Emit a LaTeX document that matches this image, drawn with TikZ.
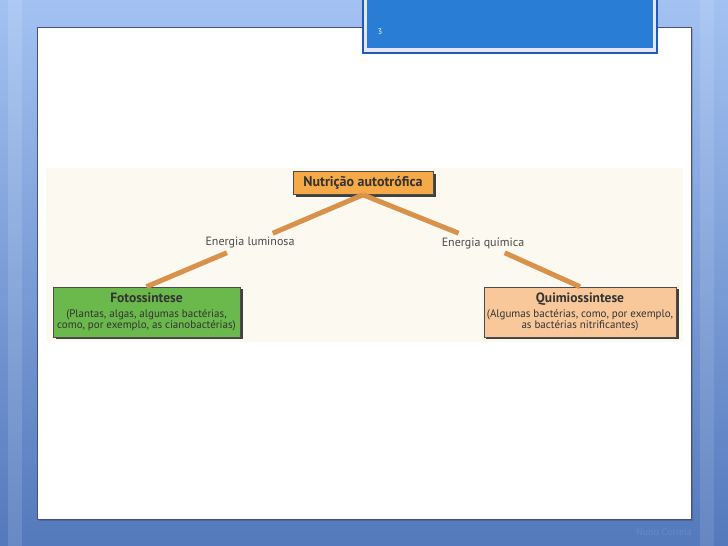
\documentclass[tikz,border=0pt]{standalone}
\usepackage{fontspec}
\setmainfont{PT Sans}
\usepackage{xcolor}
\usetikzlibrary{shadows,positioning}

\definecolor{bgtop}{HTML}{A3C2F2}
\definecolor{bgbot}{HTML}{5479BC}
\definecolor{titleblue}{HTML}{2A7DD4}
\definecolor{titleedge}{HTML}{1D5BB5}
\definecolor{panel}{HTML}{FCF9F1}
\definecolor{topfill}{HTML}{F6A947}
\definecolor{leftfill}{HTML}{6BB84C}
\definecolor{rightfill}{HTML}{F8C89B}
\definecolor{branch}{HTML}{D8924B}
\definecolor{labeltext}{HTML}{4A4A4A}
\definecolor{boxtext}{HTML}{333333}
\definecolor{footer}{HTML}{6688CC}

\begin{document}
\begin{tikzpicture}[
    x=1pt, y=1pt,
    box/.style={draw=black!70, line width=0.6pt, rectangle, align=center, inner sep=3pt, text=boxtext,
        drop shadow={shadow xshift=2.5pt, shadow yshift=-2.5pt, fill=black!75, opacity=1}},
    energy/.style={fill=panel, inner sep=4pt, font=\fontsize{12}{14}\selectfont, text=labeltext},
    branchline/.style={draw=branch, line width=5pt},
]
    % Background and slide
    \useasboundingbox (0,0) rectangle (728,546);
    \shade [top color=bgtop, bottom color=bgbot] (0,0) rectangle (728,546);
    \fill [white, opacity=0.12] (8,0) rectangle (22,546);
    \fill [white, opacity=0.10] (700,0) rectangle (714,546);
    \fill [black, opacity=0.15] (39,25) rectangle (693,517);
    \draw [fill=white, draw=black!45!blue!40!gray, line width=0.8pt] (37,27) rectangle (691,519);

    % Title box
    \fill [titleedge] (362,492) rectangle (658,548);
    \fill [white!90!blue] (364,494) rectangle (656,548);
    \fill [titleblue] (367,498) rectangle (653,548);
    \node [text=white, font=\fontsize{8}{9}\selectfont] (slidenum) at (380,514) {3};

    % Picture panel
    \fill [panel] (46,204) rectangle (683,378);

    % Nodes
    \node [box, fill=topfill, minimum width=140pt, minimum height=23pt,
        font=\bfseries\fontsize{14}{16}\selectfont] (nutri) at (363,363) {Nutrição autotrófica};
    \node [box, fill=leftfill, minimum width=187pt, minimum height=50pt,
        font=\fontsize{11}{11.5}\selectfont] (foto) at (146.5,234)
        {{\bfseries\fontsize{13.5}{15}\selectfont Fotossintese}\\[3pt](Plantas, algas, algumas bactérias,\\como, por exemplo, as cianobactérias)};
    \node [box, fill=rightfill, minimum width=192pt, minimum height=50pt,
        font=\fontsize{11}{11.5}\selectfont] (quimio) at (580,234)
        {{\bfseries\fontsize{13.5}{15}\selectfont Quimiossintese}\\[3pt](Algumas bactérias, como, por exemplo,\\as bactérias nitrificantes)};
    \node [energy] (luz) at (250,303) {Energia luminosa};
    \node [energy] (quim) at (483,303) {Energia química};

    % Branches
    \draw [branchline] (nutri.south) -- (luz) -- (foto.north);
    \draw [branchline] (nutri.south) -- (quim) -- (quimio.north);

    % Footer
    \node [text=footer, font=\fontsize{10}{12}\selectfont] (rodape) at (664,14) {Nuno Correia};
\end{tikzpicture}
\end{document}
